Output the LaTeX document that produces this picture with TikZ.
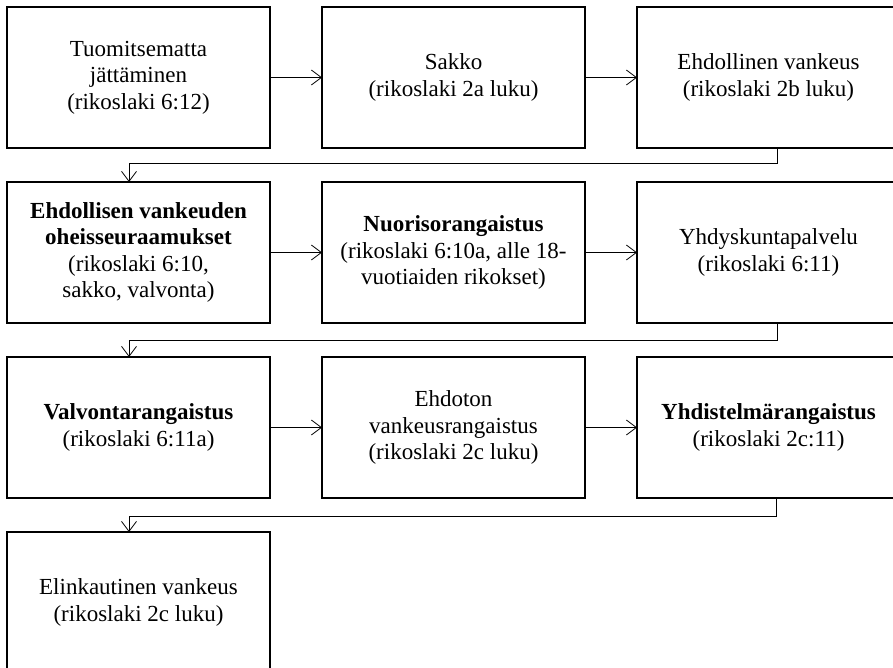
\documentclass[tikz,border=0pt]{standalone}
\usepackage{fontspec}
\setmainfont{Liberation Serif}
\usetikzlibrary{arrows.meta,positioning}
\tikzstyle{stage} = [shape=rectangle, draw, line width=1.4pt,
		anchor=center, align=center,
		minimum width=263pt, minimum height=141pt,
		inner sep=0pt, outer sep=0pt,
		font=\fontsize{23pt}{26.5pt}\selectfont]
\tikzstyle{link} = [line width=0.8pt, >={Straight Barb[length=10pt,width=15pt]}, ->]

\begin{document}
\begin{tikzpicture}[node distance=34pt and 52pt]
	\useasboundingbox (-7pt,7pt) rectangle (886pt,-661pt);
	\node[stage, anchor=north west] (tuom) at (0,0) {Tuomitsematta\\ jättäminen\\ (rikoslaki 6:12)};
	\node[stage, right=of tuom] (sakko) {Sakko\\ (rikoslaki 2a luku)};
	\node[stage, right=of sakko] (ehdv) {Ehdollinen vankeus\\ (rikoslaki 2b luku)};
	\node[stage, below=of tuom] (ohe) {\textbf{Ehdollisen vankeuden}\\ \textbf{oheisseuraamukset}\\ (rikoslaki 6:10,\\ sakko, valvonta)};
	\node[stage, right=of ohe] (nuor) {\textbf{Nuorisorangaistus}\\ (rikoslaki 6:10a, alle 18-\\ vuotiaiden rikokset)};
	\node[stage, right=of nuor] (yhdp) {Yhdyskuntapalvelu\\ (rikoslaki 6:11)};
	\node[stage, below=of ohe] (valv) {\textbf{Valvontarangaistus}\\ (rikoslaki 6:11a)};
	\node[stage, right=of valv] (ehdot) {Ehdoton\\ vankeusrangaistus\\ (rikoslaki 2c luku)};
	\node[stage, right=of ehdot] (yhdis) {\textbf{Yhdistelmärangaistus}\\ (rikoslaki 2c:11)};
	\node[stage, below=of valv] (elin) {Elinkautinen vankeus\\ (rikoslaki 2c luku)};

	\path [link] (tuom) edge (sakko);
	\path [link] (sakko) edge (ehdv);
	\path [link] (ohe) edge (nuor);
	\path [link] (nuor) edge (yhdp);
	\path [link] (valv) edge (ehdot);
	\path [link] (ehdot) edge (yhdis);
	
	% row to row
	\draw [link] ([xshift=9pt]ehdv.south) -- ++(0,-15pt) -| ([xshift=-9.5pt]ohe.north);
	\draw [link] ([xshift=9pt]yhdp.south) -- ++(0,-17pt) -| ([xshift=-9.5pt]valv.north);
	\draw [link] ([xshift=8pt]yhdis.south) -- ++(0,-18pt) -| ([xshift=-9.5pt]elin.north);
\end{tikzpicture}
\end{document}
